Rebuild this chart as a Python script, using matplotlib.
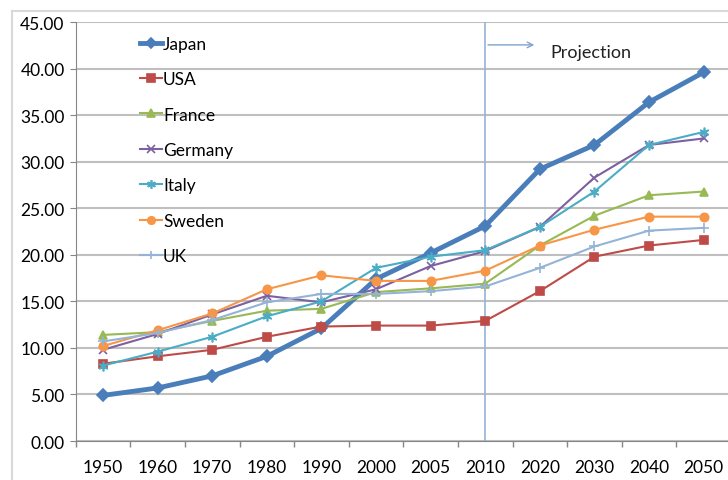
import numpy as np
import matplotlib.pyplot as plt
from matplotlib.lines import Line2D

years = ['1950', '1960', '1970', '1980', '1990', '2000', '2005', '2010',
         '2020', '2030', '2040', '2050']
japan = [4.9, 5.7, 7.0, 9.1, 12.1, 17.4, 20.2, 23.1, 29.2, 31.8, 36.4, 39.6]
usa = [8.3, 9.1, 9.8, 11.2, 12.3, 12.4, 12.4, 12.9, 16.1, 19.8, 21.0, 21.6]
france = [11.4, 11.7, 12.9, 14.0, 14.2, 16.0, 16.4, 16.9, 21.0, 24.2, 26.4, 26.8]
germany = [9.8, 11.5, 13.6, 15.6, 14.9, 16.3, 18.8, 20.4, 23.0, 28.3, 31.8, 32.5]
italy = [8.1, 9.6, 11.2, 13.4, 15.0, 18.6, 19.8, 20.5, 23.0, 26.8, 31.8, 33.2]
sweden = [10.2, 11.9, 13.7, 16.3, 17.8, 17.2, 17.2, 18.3, 21.0, 22.7, 24.1, 24.1]
uk = [10.7, 11.6, 13.0, 14.9, 15.8, 15.8, 16.1, 16.6, 18.6, 20.9, 22.6, 22.9]

plt.rcParams['font.family'] = ['Lato', 'DejaVu Sans']

fig = plt.figure(figsize=(7.28, 4.81), dpi=100)
# chart-area border (left and top edges only are visible)
bx, by = 12 / 728, 1 - 12 / 481
fig.add_artist(Line2D([bx, bx], [0, by], transform=fig.transFigure,
                      color='#D9D9D9', linewidth=1.5))
fig.add_artist(Line2D([bx, 1], [by, by], transform=fig.transFigure,
                      color='#D9D9D9', linewidth=1.5))
ax = fig.add_axes([0.104, 0.081, 0.9, 0.871])

x = np.arange(len(years))
series = [
    ('Japan', japan, '#4A7EBB', 'D', 3.5, 6),
    ('USA', usa, '#BE4B48', 's', 1.5, 6),
    ('France', france, '#98B954', '^', 1.5, 6),
    ('Germany', germany, '#7D60A0', 'x', 1.5, 6),
    ('Italy', italy, '#4BACC6', (6, 2, 0), 1.5, 7),
    ('Sweden', sweden, '#F79646', 'o', 1.5, 6),
    ('UK', uk, '#95B3D7', '+', 1.5, 7),
]
for name, vals, col, mk, lw, ms in series:
    ax.plot(x, vals, color=col, marker=mk, linewidth=lw, markersize=ms,
            markeredgewidth=1.2, label=name)

ax.axvline(7, color='#95B3D7', linewidth=1.2, zorder=1)
ax.annotate('', xy=(7.95, 42.55), xytext=(7, 42.55),
            arrowprops=dict(arrowstyle='->', color='#7FA3CF', lw=1))
ax.text(8.2, 41.8, 'Projection', fontsize=13, va='center', color='#222222')

ax.set_xlim(-0.5, 11.5)
ax.set_ylim(0, 45)
ax.set_yticks(np.arange(0, 46, 5))
ax.set_yticklabels(['%.2f' % v for v in np.arange(0, 46, 5)])
ax.set_xticks(x)
ax.set_xticklabels(years)
ax.set_xticks(np.arange(-0.5, 12, 1), minor=True)
ax.tick_params(axis='x', which='major', length=0, pad=13, labelsize=12.5)
ax.tick_params(axis='x', which='minor', length=4, color='#868686', width=1)
ax.tick_params(axis='y', length=4, color='#868686', labelsize=12.5, pad=4)

ax.grid(axis='y', color='#BFBFBF', linewidth=1.5)
ax.set_axisbelow(True)
for s in ['top', 'right']:
    ax.spines[s].set_visible(False)
ax.spines['left'].set_color('#868686')
ax.spines['bottom'].set_color('#868686')

leg = ax.legend(loc='upper left', bbox_to_anchor=(0.075, 1.005), frameon=False,
                fontsize=12.5, labelspacing=1.12, handlelength=1.25,
                handletextpad=0.05, markerscale=0.9)

fig.savefig('out.png', dpi=100)
